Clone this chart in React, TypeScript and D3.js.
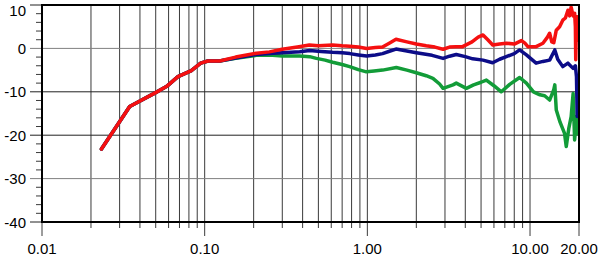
import React from 'react';
import * as d3 from 'd3';

const xTickValues = [0.01, 0.1, 1, 10, 20];
const xTickLabels = ['0.01', '0.10', '1.00', '10.00', '20.00'];
const yTickValues = [10, 0, -10, -20, -30, -40];
const yTickLabels = ['10', '0', '-10', '-20', '-30', '-40'];

const lowFreq = [0.0232, 0.0346, 0.0493, 0.0582, 0.0685, 0.0828, 0.0945, 0.1047, 0.1236];
const lowVal = [-23.2, -13.4, -10.3, -8.8, -6.5, -5.1, -3.4, -2.9, -2.9];

const redFreq = [0.155, 0.208, 0.25, 0.30, 0.38, 0.44, 0.50, 0.61, 0.70, 0.78, 0.88, 0.99, 1.12, 1.24, 1.38, 1.5, 1.75, 2.0, 2.3, 2.6, 2.92, 3.2, 3.5, 3.85, 4.4, 4.8, 5.14, 5.5, 5.9, 6.5, 7.15, 8.0, 8.85, 9.3, 9.7, 10.9, 12.0, 12.8, 13.2, 13.6, 14.0, 14.5, 15.2, 15.9, 16.5, 17.1, 17.5, 17.9, 18.4, 18.8, 19.0, 19.1, 19.3, 19.5, 19.7, 19.9];
const redVal = [-2.0, -1.1, -0.8, -0.2, 0.4, 0.8, 0.6, 0.8, 0.6, 0.5, 0.3, 0.0, 0.2, 0.3, 1.3, 2.1, 1.5, 1.0, 0.6, 0.3, -0.2, 0.3, 0.4, 0.4, 1.5, 2.6, 3.1, 2.0, 0.8, 1.0, 1.2, 1.0, 1.8, 1.2, 0.4, 0.4, 1.2, 2.6, 3.5, 1.5, 1.3, 4.2, 5.0, 6.5, 7.0, 8.8, 7.5, 9.5, 7.5, 8.1, 5.0, -2.6, 6.5, 7.3, 3.0, 1.9];

const blueFreq = [0.155, 0.208, 0.25, 0.30, 0.384, 0.442, 0.52, 0.61, 0.70, 0.78, 0.88, 0.99, 1.12, 1.24, 1.38, 1.5, 1.75, 2.0, 2.5, 2.92, 3.2, 3.52, 4.0, 4.44, 5.14, 5.89, 6.5, 7.15, 8.0, 8.63, 9.5, 10.9, 12.0, 13.2, 14.2, 14.8, 15.9, 17.1, 18.4, 19.0, 19.3, 19.5, 19.7, 19.9];
const blueVal = [-2.2, -1.4, -1.2, -1.0, -0.75, -0.5, -0.7, -0.9, -1.0, -1.2, -1.5, -1.75, -1.5, -1.2, -0.6, -0.15, -0.6, -1.0, -1.6, -2.3, -1.8, -1.4, -1.9, -2.4, -2.7, -3.3, -2.5, -1.9, -1.2, -0.35, -1.5, -3.4, -3.0, -2.7, -0.35, -2.5, -4.2, -3.4, -4.6, -4.0, -6.5, -15.7, -11.9, -14.0];

const greenFreq = [0.155, 0.208, 0.25, 0.30, 0.384, 0.442, 0.486, 0.55, 0.612, 0.70, 0.778, 0.88, 0.986, 1.1, 1.242, 1.507, 1.75, 2.0, 2.3, 2.53, 2.78, 2.92, 3.36, 3.52, 4.06, 4.5, 5.0, 5.39, 6.0, 6.66, 7.5, 8.63, 9.5, 10.5, 11.5, 12.3, 13.2, 14.0, 14.2, 14.5, 15.3, 16.3, 16.7, 17.3, 17.9, 18.4, 18.8, 19.3, 19.6, 19.9];
const greenVal = [-2.3, -1.6, -1.5, -1.75, -1.75, -1.9, -2.3, -2.7, -3.2, -3.7, -4.2, -4.9, -5.4, -5.2, -5.0, -4.4, -5.0, -5.6, -6.3, -6.9, -8.2, -9.2, -8.4, -8.0, -9.2, -8.4, -7.8, -7.3, -8.6, -10.0, -8.3, -6.7, -8.0, -10.0, -10.7, -10.9, -11.9, -9.5, -8.4, -14.2, -17.0, -19.6, -22.6, -18.5, -15.7, -10.4, -21.1, -15.7, -19.6, -18.0];

const W = 600;
const H = 256;
const left = 42;
const right = 579;
const top = 5;
const bottom = 222;

export default function App() {
  const x = d3.scaleLog().domain([0.01, 20]).range([left, right]);
  const y = d3.scaleLinear().domain([-40, 10]).range([bottom, top]);

  const minorX: number[] = [];
  [0.01, 0.1, 1].forEach((d) => {
    for (let k = 2; k <= 9; k++) minorX.push(d * k);
  });
  const majorX = [0.1, 1, 10];
  const minorY: number[] = [];
  for (let v = -40; v <= 10; v += 2) if (v % 10 !== 0) minorY.push(v);

  const line = d3
    .line<[number, number]>()
    .x((d) => x(d[0]))
    .y((d) => y(d[1]));

  const mk = (f: number[], v: number[], withLow: boolean): [number, number][] => {
    const pts: [number, number][] = [];
    if (withLow) lowFreq.forEach((ff, i) => pts.push([ff, lowVal[i]]));
    f.forEach((ff, i) => pts.push([ff, v[i]]));
    return pts;
  };

  const series = [
    { pts: mk(greenFreq, greenVal, true), color: '#129c38' },
    { pts: mk(blueFreq, blueVal, true), color: '#0c0c88' },
    { pts: mk(redFreq, redVal, true), color: '#f51010' },
  ];

  const font = '"Liberation Sans", Arial, sans-serif';

  return (
    <svg width={W} height={H} style={{ position: 'absolute', left: 0, top: 0, display: 'block' }}>
      <rect x={0} y={0} width={W} height={H} fill="#fff" />
      <defs>
        <clipPath id="plotclip">
          <rect x={left} y={top} width={right - left} height={bottom - top} />
        </clipPath>
      </defs>
      {/* vertical grid + ticks */}
      {minorX.map((d, i) => (
        <line key={'mx' + i} x1={x(d)} x2={x(d)} y1={top} y2={bottom + 6} stroke="#3a3a3a" strokeWidth={1} />
      ))}
      {majorX.map((d, i) => (
        <line key={'Mx' + i} x1={x(d)} x2={x(d)} y1={top} y2={bottom + 14} stroke="#3a3a3a" strokeWidth={1} />
      ))}
      <line x1={x(0.01)} x2={x(0.01)} y1={bottom} y2={bottom + 14} stroke="#3a3a3a" strokeWidth={1} />
      <line x1={x(20)} x2={x(20)} y1={bottom} y2={bottom + 14} stroke="#3a3a3a" strokeWidth={1} />
      {/* horizontal grid + ticks */}
      {yTickValues.map((v, i) => (
        <line
          key={'hy' + i}
          x1={left - 12}
          x2={v === 10 || v === -40 ? left : right}
          y1={y(v)}
          y2={y(v)}
          stroke={v === 0 || v === -30 ? '#808080' : '#222'}
          strokeWidth={1}
        />
      ))}
      {minorY.map((v, i) => (
        <line key={'my' + i} x1={left - 6} x2={left} y1={y(v)} y2={y(v)} stroke="#3a3a3a" strokeWidth={1} />
      ))}
      {/* series */}
      <g clipPath="url(#plotclip)">
        {series.map((s, i) => (
          <path
            key={'s' + i}
            d={line(s.pts) || ''}
            fill="none"
            stroke={s.color}
            strokeWidth={3.5}
            strokeLinejoin="round"
            strokeLinecap="round"
          />
        ))}
      </g>
      {/* frame */}
      <rect x={left} y={top} width={right - left} height={bottom - top} fill="none" stroke="#000" strokeWidth={2} />
      {/* labels */}
      {yTickValues.map((v, i) => (
        <text
          key={'yl' + i}
          x={26}
          y={Math.max(y(v), 10)}
          textAnchor="end"
          dominantBaseline="central"
          fontFamily={font}
          fontSize={15}
          fill="#000"
        >
          {yTickLabels[i]}
        </text>
      ))}
      {xTickValues.map((v, i) => (
        <text
          key={'xl' + i}
          x={x(v)}
          y={254}
          textAnchor="middle"
          fontFamily={font}
          fontSize={15}
          fill="#000"
        >
          {xTickLabels[i]}
        </text>
      ))}
    </svg>
  );
}
